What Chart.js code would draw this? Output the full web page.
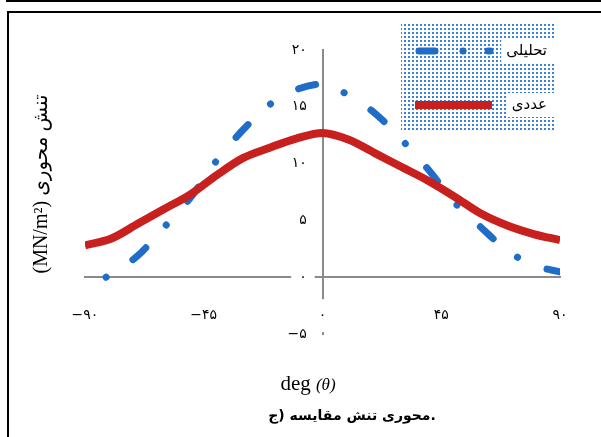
<!DOCTYPE html>
<html>
<head>
<meta charset="utf-8">
<script src="https://cdn.jsdelivr.net/npm/chart.js@4.4.0/dist/chart.umd.min.js"></script>
<style>
  html, body { margin: 0; padding: 0; background: #fff; }
  #wrap { position: relative; width: 601px; height: 437px; overflow: hidden; }
  #prev { position: absolute; left: 6px; top: -10px; width: 700px; height: 10px; border-left: 2px solid #000; border-bottom: 2px solid #000; }
  #frame { position: absolute; left: 7px; top: 11px; width: 700px; height: 500px; border-left: 2px solid #000; border-top: 2px solid #000; }
  canvas { position: absolute; left: 0; top: 0; }
</style>
</head>
<body>
<div id="wrap">
  <div id="prev"></div>
  <div id="frame"></div>
  <canvas id="myChart" width="601" height="437"></canvas>
</div>
<script>
// numerical (red) and analytical (blue) axial stress vs angle
var numAngles = [-90, -80, -70, -60, -50, -40, -30, -20, -10, 0, 10, 20, 30, 40, 50, 60, 70, 80, 90];
var numValues = [2.8, 3.4, 4.7, 6.0, 7.3, 9.0, 10.5, 11.4, 12.2, 12.7, 12.1, 10.9, 9.7, 8.5, 7.1, 5.6, 4.55, 3.8, 3.26];

var anaAngles = [-82, -70, -60, -50, -40, -30, -20, -10, 0, 10, 20, 30, 40, 50, 60, 70, 80, 90];
var anaValues = [0, 1.9, 4.4, 7.0, 10.3, 13.0, 15.2, 16.5, 17.0, 16.0, 14.4, 12.1, 9.5, 6.6, 4.4, 2.35, 1.05, 0.47];

var xTickLabels = ['−۹۰', '−۴۵', '۰', '۴۵', '۹۰'];
var yTickLabels = ['−۵', '۰', '۵', '۱۰', '۱۵', '۲۰'];

var seriesNames = ['تحلیلی', 'عددی'];

var blue = '#1f6dc6';
var red = '#c81f1f';
var gray = '#8a8a8a';

function toPoints(xs, ys) {
    var pts = [];
    for (var i = 0; i < xs.length; i++) {
        pts.push({x: xs[i], y: ys[i]});
    }
    return pts;
}

var tickFont = {family: 'DejaVu Sans', size: 14};

// legend with dotted fill, axis titles and caption
var extras = {
    id: 'extras',
    afterDraw: function(chart) {
        var ctx = chart.ctx;
        ctx.save();

        // legend box
        var pat = document.createElement('canvas');
        pat.width = 4; pat.height = 4;
        var pc = pat.getContext('2d');
        pc.fillStyle = '#3c82d2';
        pc.fillRect(0, 0, 2, 2);
        var lx = 401, ly = 22, lw = 153, lh = 109;
        ctx.fillStyle = ctx.createPattern(pat, 'repeat');
        ctx.fillRect(lx, ly, lw, lh);

        ctx.font = '15px "DejaVu Sans"';
        ctx.textAlign = 'right';
        ctx.textBaseline = 'middle';
        var rows = [51, 105];
        for (var i = 0; i < 2; i++) {
            var w = ctx.measureText(seriesNames[i]).width;
            ctx.fillStyle = '#fff';
            ctx.fillRect(lx + lw - w - 12, rows[i] - 12, w + 12, 24);
            ctx.fillStyle = '#000';
            ctx.fillText(seriesNames[i], lx + lw - 7, rows[i]);
        }
        ctx.lineCap = 'round';
        ctx.lineWidth = 7;
        ctx.strokeStyle = blue;
        ctx.setLineDash([16, 28, 0.1, 25]);
        ctx.beginPath();
        ctx.moveTo(419, rows[0]);
        ctx.lineTo(490, rows[0]);
        ctx.stroke();
        ctx.setLineDash([]);
        ctx.lineCap = 'butt';
        ctx.lineWidth = 8;
        ctx.strokeStyle = red;
        ctx.beginPath();
        ctx.moveTo(415, rows[1]);
        ctx.lineTo(492, rows[1]);
        ctx.stroke();

        // y title
        ctx.fillStyle = '#000';
        ctx.save();
        ctx.translate(42, 184);
        ctx.rotate(-Math.PI / 2);
        ctx.textAlign = 'center';
        ctx.font = '20px "Liberation Serif", "DejaVu Sans"';
        ctx.fillText('(MN/m²) تنش محوری', 0, 0);
        ctx.restore();

        // x title
        ctx.textAlign = 'left';
        ctx.textBaseline = 'alphabetic';
        ctx.font = '21px "Liberation Serif"';
        var w1 = ctx.measureText('deg ').width;
        ctx.font = 'italic 17px "Liberation Serif"';
        var w2 = ctx.measureText('(θ)').width;
        var sx = 308 - (w1 + w2) / 2;
        ctx.font = '21px "Liberation Serif"';
        ctx.fillText('deg ', sx, 390);
        ctx.font = 'italic 17px "Liberation Serif"';
        ctx.fillText('(θ)', sx + w1, 390);

        // caption
        ctx.textAlign = 'center';
        ctx.font = 'bold 14px "DejaVu Sans"';
        ctx.fillText('ج)\u200E \u200Eمقایسه\u200E \u200Eتنش\u200E \u200Eمحوری.', 352, 420);
        ctx.restore();
    }
};

var ctx = document.getElementById('myChart').getContext('2d');
var myChart = new Chart(ctx, {
    type: 'line',
    data: {
        datasets: [{
            label: seriesNames[0],
            data: toPoints(anaAngles, anaValues),
            borderColor: blue,
            borderWidth: 7,
            borderDash: [0.1, 32, 17.5, 30.5],
            borderCapStyle: 'round',
            pointRadius: 0,
            cubicInterpolationMode: 'monotone',
            order: 1
        }, {
            label: seriesNames[1],
            data: toPoints(numAngles, numValues),
            borderColor: red,
            borderWidth: 8,
            pointRadius: 0,
            cubicInterpolationMode: 'monotone',
            order: 0
        }]
    },
    options: {
        responsive: false,
        animation: false,
        layout: {
            padding: {left: 85, right: 41, top: 50, bottom: 103}
        },
        plugins: {
            legend: {display: false},
            tooltip: {enabled: false}
        },
        scales: {
            x: {
                type: 'linear',
                min: -90,
                max: 90,
                position: {y: 0},
                grid: {drawOnChartArea: false, drawTicks: false},
                border: {color: gray, width: 2},
                ticks: {
                    stepSize: 45,
                    padding: 30,
                    z: 1,
                    color: '#000',
                    font: tickFont,
                    showLabelBackdrop: true,
                    backdropColor: '#fff',
                    backdropPadding: {top: 8, bottom: 8, left: 2, right: 2},
                    callback: function(value, index) {
                        return xTickLabels[index];
                    }
                }
            },
            y: {
                type: 'linear',
                min: -5,
                max: 20,
                position: {x: 0},
                grid: {drawOnChartArea: false, drawTicks: false},
                border: {color: gray, width: 2},
                ticks: {stepSize: 5, display: false}
            },
            // labels of the value axis sit a little left of the axis line
            yl: {
                type: 'linear',
                axis: 'y',
                min: -5,
                max: 20,
                position: {x: -6},
                grid: {display: false, drawTicks: false},
                border: {display: false},
                ticks: {
                    stepSize: 5,
                    z: 1,
                    color: '#000',
                    font: tickFont,
                    showLabelBackdrop: true,
                    backdropColor: '#fff',
                    backdropPadding: {top: 2, bottom: 2, left: 8, right: 8},
                    callback: function(value, index) {
                        return yTickLabels[index];
                    }
                }
            }
        }
    },
    plugins: [extras]
});
</script>
</body>
</html>
